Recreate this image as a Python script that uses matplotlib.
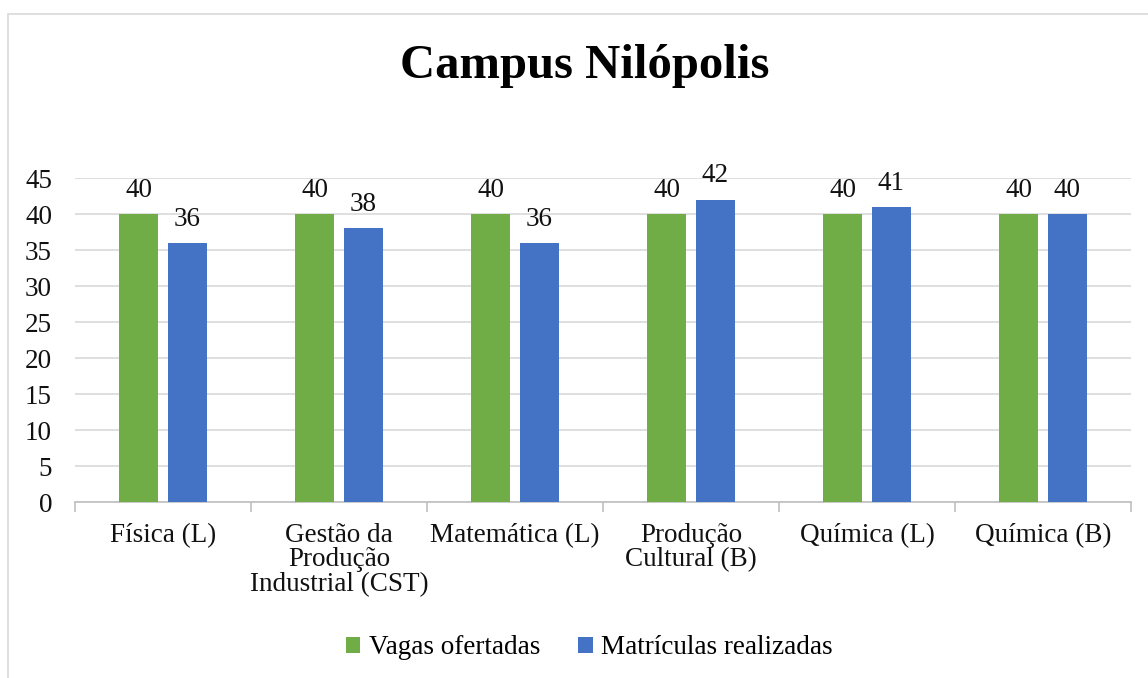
import matplotlib.pyplot as plt
from matplotlib.patches import Rectangle
import numpy as np

# dados do gráfico
cursos = ["Física (L)", "Gestão da\nProdução\nIndustrial (CST)", "Matemática (L)",
          "Produção\nCultural (B)", "Química (L)", "Química (B)"]
vagas = [40, 40, 40, 40, 40, 40]
matriculas = [36, 38, 36, 42, 41, 40]

plt.rcParams['font.family'] = ['Liberation Serif', 'DejaVu Serif']
fs = 19.5

fig = plt.figure(figsize=(11.48, 6.78), dpi=100)
ax = fig.add_axes([75 / 1148, 1 - 502 / 678, (1131 - 75) / 1148, (502 - 178) / 678])

# moldura do gráfico (cortada à direita e embaixo)
fig.patches.append(Rectangle((8 / 1148, -0.1), 1.2, (678 - 14) / 678 + 0.1,
                             transform=fig.transFigure, fill=False,
                             edgecolor='#D9D9D9', linewidth=1.2))

x = np.arange(len(cursos))
w = 0.222
off = 0.139
b1 = ax.bar(x - off, vagas, w, color='#70AD47', label='Vagas ofertadas', zorder=3)
b2 = ax.bar(x + off, matriculas, w, color='#4472C4', label='Matrículas realizadas', zorder=3)

for bars in (b1, b2):
    for r in bars:
        ax.annotate(f"{int(r.get_height())}", (r.get_x() + r.get_width() / 2, r.get_height()),
                    xytext=(0, 8), textcoords='offset points', ha='center', va='bottom',
                    fontsize=fs, color='#111111')

ax.set_xlim(-0.5, len(cursos) - 0.5)
ax.set_ylim(0, 45)
ax.set_yticks(range(0, 46, 5))
ax.yaxis.grid(True, color='#D9D9D9', linewidth=1.2, zorder=0)
ax.set_axisbelow(True)

for s in ['top', 'right', 'left']:
    ax.spines[s].set_visible(False)
ax.spines['bottom'].set_color('#BFBFBF')
ax.spines['bottom'].set_linewidth(1.2)

ax.set_xticks(x)
ax.set_xticklabels(cursos, fontsize=fs, linespacing=0.97)
ax.tick_params(axis='x', length=0, pad=15)
ax.set_xticks(np.arange(-0.5, len(cursos), 1), minor=True)
ax.tick_params(axis='x', which='minor', length=7, color='#BFBFBF', width=1.2)
ax.tick_params(axis='y', length=0, pad=16.5, labelsize=fs)
for t in ax.get_xticklabels() + ax.get_yticklabels():
    t.set_color('#111111')

fig.text(585 / 1148, 1 - 66 / 678, "Campus Nilópolis", ha='center', va='center',
         fontsize=35, fontweight='bold')

fig.legend(loc='center', bbox_to_anchor=(589 / 1148, 1 - 648 / 678), ncol=2,
           frameon=False, fontsize=fs, handlelength=0.55, handleheight=0.55,
           handletextpad=0.3, columnspacing=1.4)

plt.savefig('out.png', dpi=100)
